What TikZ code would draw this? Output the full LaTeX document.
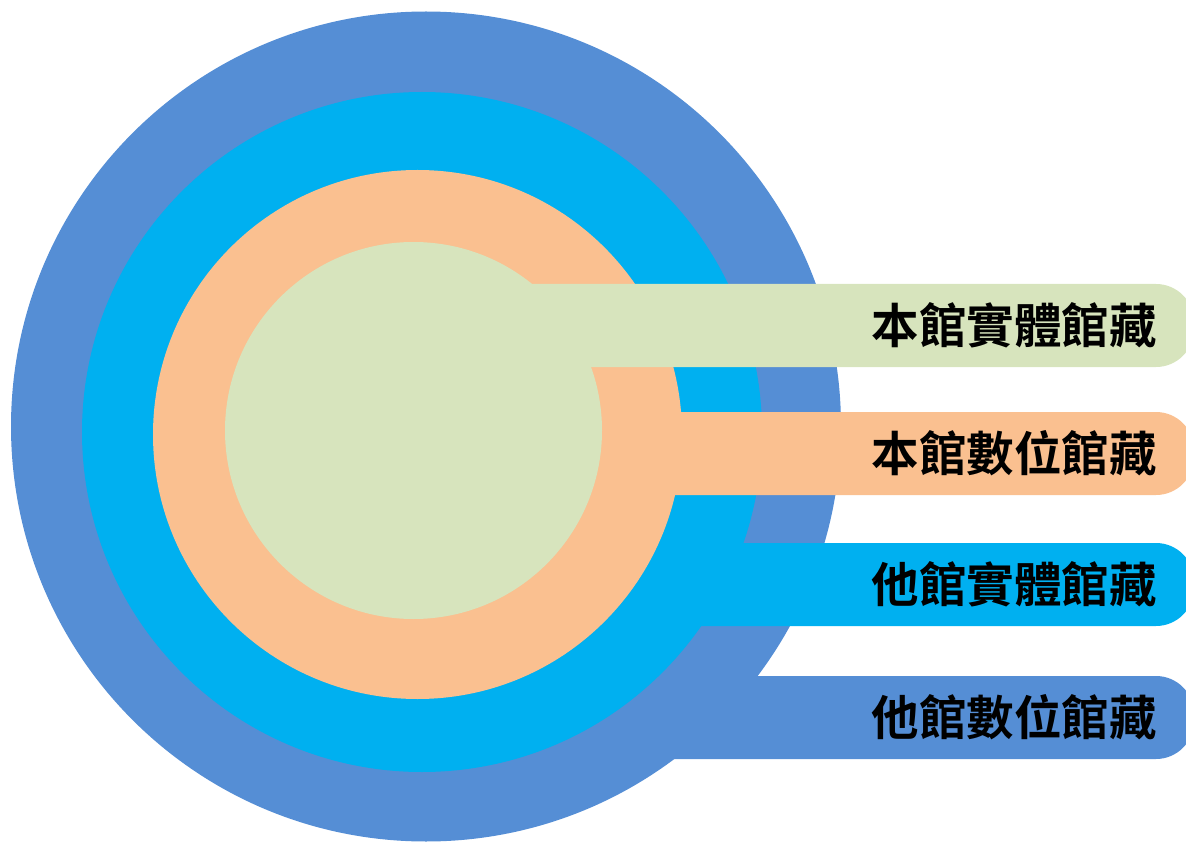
\documentclass[tikz,border=0pt]{standalone}
\usepackage{fontspec}
\newfontfamily\cjkbold{Noto Sans CJK TC Bold}
\definecolor{ringA}{HTML}{558ED5}
\definecolor{ringB}{HTML}{00B0F0}
\definecolor{ringC}{HTML}{FAC090}
\definecolor{ringD}{HTML}{D7E4BD}
\begin{document}
\begin{tikzpicture}[x=1pt,y=-1pt,
  lbl/.style={anchor=east,inner sep=0pt,font=\cjkbold\fontsize{47.5}{47.5}\selectfont,text=black},
  bar/.style={rounded corners=38pt}]
\useasboundingbox (0,0) rectangle (1186,842);
% outer ring
\fill[ringA] (426,426.5) circle (415);
\fill[ringA,bar] (426,676) -- (1194,676) -- (1194,759) -- (426,759) -- cycle;
% cyan ring
\fill[ringB] (422,432) circle (340);
\fill[ringB,bar] (422,543) -- (1194,543) -- (1194,626) -- (422,626) -- cycle;
% peach ring
\fill[ringC] (417.5,434.5) circle (264.5);
\fill[ringC,bar] (417.5,412) -- (1194,412) -- (1194,495) -- (417.5,495) -- cycle;
% green core
\fill[ringD] (413.5,430.5) circle (188.5);
\fill[ringD,bar] (413.5,284) -- (1194,284) -- (1194,367) -- (413.5,367) -- cycle;
% labels
\node[lbl] (l1) at (1157,325.5) {本館實體館藏};
\node[lbl] (l2) at (1157,453.5) {本館數位館藏};
\node[lbl] (l3) at (1157,584.5) {他館實體館藏};
\node[lbl] (l4) at (1157,717.5) {他館數位館藏};
\end{tikzpicture}
\end{document}
